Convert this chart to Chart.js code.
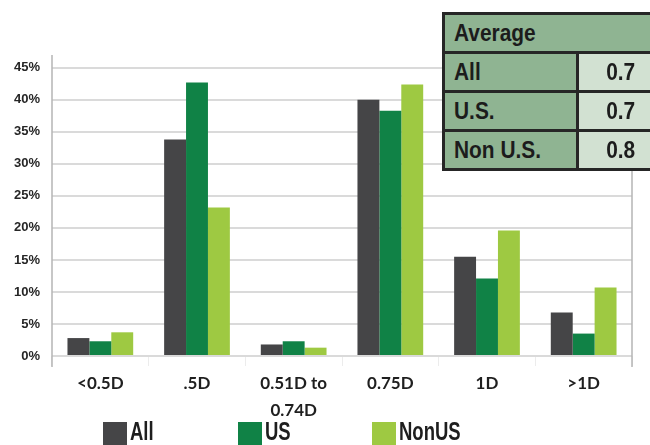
<!DOCTYPE html>
<html>
<head>
<meta charset="utf-8">
<script src="https://cdn.jsdelivr.net/npm/chart.js@4.4.1/dist/chart.umd.min.js"></script>
<style>
  html, body { margin: 0; padding: 0; background: #ffffff; overflow: hidden; }
  #wrap { position: relative; width: 650px; height: 445px; overflow: hidden; }
  canvas { position: absolute; left: 0; top: 0; }
  .cond { font-family: "Liberation Sans", Arial, sans-serif; font-weight: bold; }
  .sq { display: inline-block; white-space: nowrap; transform-origin: left center; }
  #avg { position: absolute; left: 442px; top: 12px; width: 220px; table-layout: fixed; border-collapse: collapse; color: #1c1c1c; }
  #avg td { border: 3px solid #262626; height: 36px; padding: 0 0 0 9px; font-size: 24px; background: #8fb492; white-space: nowrap; }
  #avg td .sq { transform: scaleX(0.87); }
  #avg td.v { background: #d2e1d2; text-align: center; padding: 0; }
  #avg td.v .sq { transform-origin: center center; }
  #legend { position: absolute; left: 0; top: 421px; width: 650px; height: 30px; }
  .li { position: absolute; top: 0; height: 30px; }
  .sw { position: absolute; left: 0; top: 1px; width: 24px; height: 24px; }
  .lt { position: absolute; left: 27px; top: -4px; font-size: 25px; color: #1e1e1e; }
  .lt .sq { transform: scaleX(0.74); }
</style>
</head>
<body>
<div id="wrap">
  <canvas id="c" width="650" height="445"></canvas>
  <table id="avg" class="cond"><colgroup><col style="width:134px"><col style="width:86px"></colgroup><tbody></tbody></table>
  <div id="legend" class="cond"></div>
</div>
<script>
// Share of respondents by spacing bucket
const categories = [["<0.5D"], [".5D"], ["0.51D to", "0.74D"], ["0.75D"], ["1D"], [">1D"]];
const seriesNames = ["All", "US", "NonUS"];
const seriesColors = ["#454547", "#108246", "#9ec942"];
const allValues = [2.8, 33.8, 1.8, 40.0, 15.5, 6.8];
const usValues = [2.3, 42.7, 2.3, 38.3, 12.1, 3.5];
const nonUsValues = [3.7, 23.2, 1.3, 42.4, 19.6, 10.7];
const yTicks = [0, 5, 10, 15, 20, 25, 30, 35, 40, 45];

// Average table
const avgHeader = "Average";
const avgLabels = ["All", "U.S.", "Non U.S."];
const avgValues = ["0.7", "0.7", "0.8"];

const seriesValues = [allValues, usValues, nonUsValues];

// Frame lines at both ends of the plot area, extended down like tick marks
const frameLines = {
  id: 'frameLines',
  afterDatasetsDraw(chart) {
    const { ctx, chartArea: a } = chart;
    ctx.save();
    ctx.strokeStyle = '#b4b4b4';
    ctx.lineWidth = 1.5;
    [a.left, a.right].forEach(x => {
      ctx.beginPath();
      ctx.moveTo(x, a.top);
      ctx.lineTo(x, a.bottom + 11);
      ctx.stroke();
    });
    ctx.restore();
  }
};

new Chart(document.getElementById('c'), {
  type: 'bar',
  data: {
    labels: categories,
    datasets: seriesNames.map((name, i) => ({
      label: name,
      data: seriesValues[i],
      backgroundColor: seriesColors[i],
      borderWidth: 0,
      categoryPercentage: 0.68,
      barPercentage: 1.0
    }))
  },
  options: {
    responsive: false,
    animation: false,
    layout: { padding: { left: 0, right: 18, top: 55, bottom: 0 } },
    plugins: { legend: { display: false }, tooltip: { enabled: false } },
    scales: {
      x: {
        offset: true,
        grid: { offset: true, drawOnChartArea: false, drawTicks: true, tickLength: 10, color: '#ececec', lineWidth: 1 },
        border: { display: false },
        ticks: {
          color: '#1f1f1f',
          padding: 4,
          maxRotation: 0,
          autoSkip: false,
          font: { family: 'Lato, "Open Sans", sans-serif', size: 17, weight: 'bold', lineHeight: 1.6 }
        },
        afterFit(scale) { scale.height = 89; }
      },
      y: {
        min: 0,
        max: 47,
        ticks: {
          color: '#262626',
          padding: 12,
          font: { family: '"Liberation Sans", Arial, sans-serif', size: 13, weight: 'bold' },
          callback: v => v + '%'
        },
        afterBuildTicks(scale) {
          scale.ticks = yTicks.map(v => ({ value: v }));
        },
        grid: { color: '#dadada', lineWidth: 2, drawTicks: false },
        border: { display: false },
        afterFit(scale) { scale.width = 52; }
      }
    }
  },
  plugins: [frameLines]
});

// Build the average table
const sq = t => '<span class="sq">' + t + '</span>';
const tbody = document.querySelector('#avg tbody');
let html = '<tr><td colspan="2">' + sq(avgHeader) + '</td></tr>';
avgLabels.forEach((l, i) => {
  html += '<tr><td>' + sq(l) + '</td><td class="v">' + sq(avgValues[i]) + '</td></tr>';
});
tbody.innerHTML = html;

// Build the legend
const legendX = [103, 238, 372];
const lg = document.getElementById('legend');
seriesNames.forEach((name, i) => {
  const d = document.createElement('div');
  d.className = 'li';
  d.style.left = legendX[i] + 'px';
  d.innerHTML = '<div class="sw" style="background:' + seriesColors[i] + '"></div><div class="lt">' + sq(name) + '</div>';
  lg.appendChild(d);
});
</script>
</body>
</html>
